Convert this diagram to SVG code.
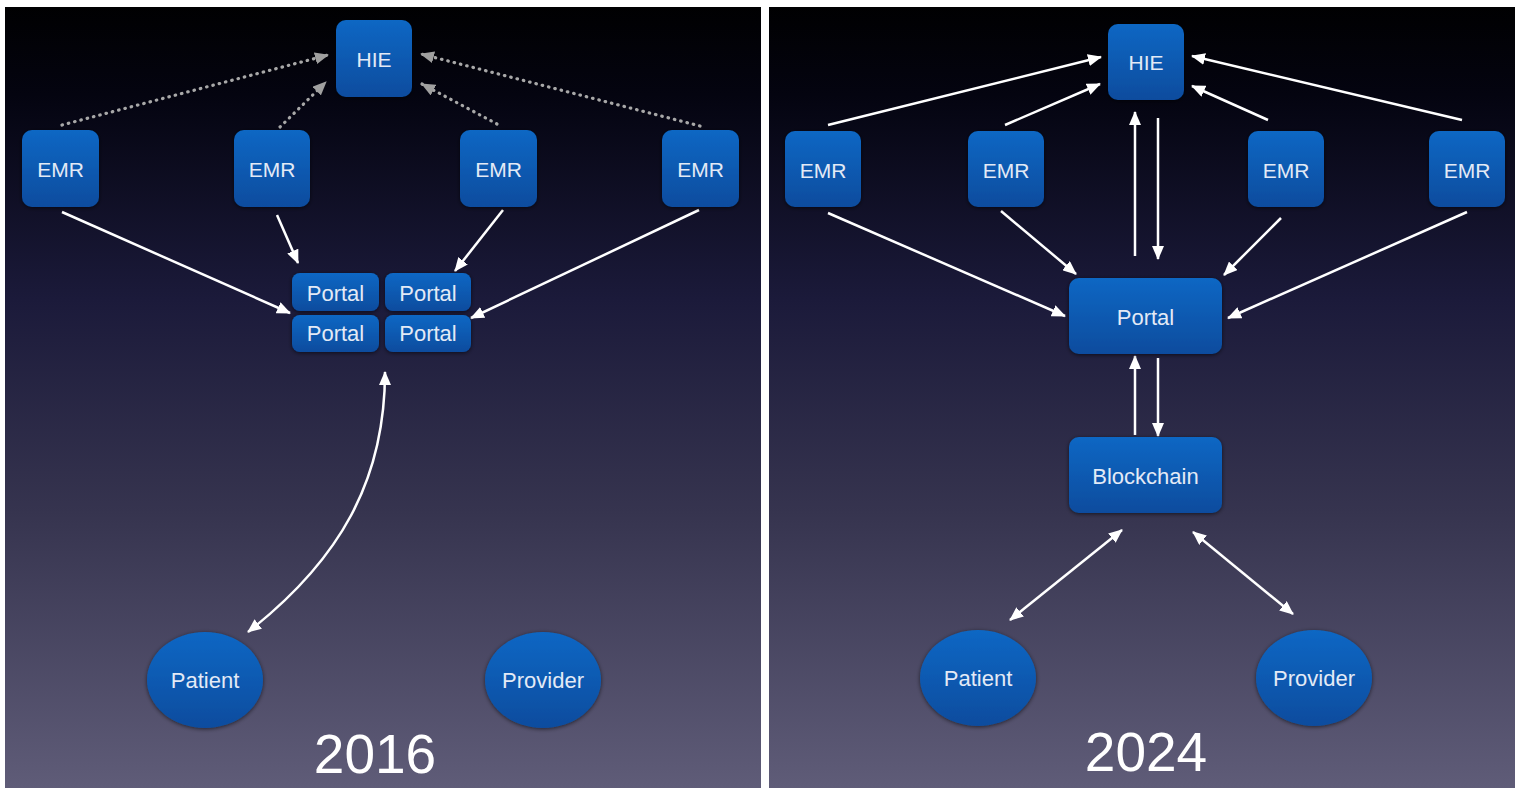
<svg xmlns="http://www.w3.org/2000/svg" width="1517" height="788" viewBox="0 0 1517 788">
<style>
.node{fill:url(#ng);filter:url(#sh)}
.t{font-family:"Liberation Sans",Arial,sans-serif;fill:#e3eaf6;text-anchor:middle;dominant-baseline:central}
.s{font-size:21px}
.m{font-size:22px}
.yr{font-family:"Liberation Sans",Arial,sans-serif;fill:#ffffff;font-size:55px;text-anchor:middle}
.a{stroke:#ffffff;stroke-width:2.5;fill:none;marker-end:url(#ah)}
.a2{stroke:#ffffff;stroke-width:2.5;fill:none;marker-end:url(#ah);marker-start:url(#ah)}
.d{stroke:#a8a8a8;stroke-width:3.2;fill:none;stroke-dasharray:0.5 6;stroke-linecap:round;marker-end:url(#gh)}
</style>
<defs>
<linearGradient id="bg" x1="0" y1="0" x2="0" y2="788" gradientUnits="userSpaceOnUse">
<stop offset="0" stop-color="#000000"/>
<stop offset="0.12" stop-color="#040410"/>
<stop offset="0.38" stop-color="#1b1a3a"/>
<stop offset="0.65" stop-color="#36344f"/>
<stop offset="1" stop-color="#5f5c78"/>
</linearGradient>
<linearGradient id="ng" x1="0" y1="0" x2="0" y2="1">
<stop offset="0" stop-color="#0c67c4"/>
<stop offset="1" stop-color="#0a4c9e"/>
</linearGradient>
<filter id="sh" x="-20%" y="-20%" width="140%" height="140%">
<feDropShadow dx="0" dy="1" stdDeviation="2" flood-color="#000000" flood-opacity="0.6"/>
</filter>
<marker id="ah" markerUnits="userSpaceOnUse" markerWidth="14" markerHeight="12" refX="13" refY="6" orient="auto-start-reverse" viewBox="0 0 14 12">
<path d="M0,0 L14,6 L0,12 z" fill="#ffffff"/>
</marker>
<marker id="gh" markerUnits="userSpaceOnUse" markerWidth="14" markerHeight="12" refX="13" refY="6" orient="auto" viewBox="0 0 14 12">
<path d="M0,0 L14,6 L0,12 z" fill="#a0a0a0"/>
</marker>
</defs>
<rect x="0" y="0" width="1517" height="788" fill="#ffffff"/>
<rect x="5" y="7" width="756" height="781" fill="url(#bg)"/>
<rect x="769" y="7" width="746" height="781" fill="url(#bg)"/>

<g id="connectors">
<!-- 2016 -->
<line class="d" x1="62" y1="125" x2="328" y2="55"/>
<line class="d" x1="280" y1="127" x2="326" y2="82"/>
<line class="d" x1="497" y1="124" x2="422" y2="84"/>
<line class="d" x1="700" y1="126" x2="421" y2="54"/>
<line class="a" x1="62" y1="212" x2="290" y2="313"/>
<line class="a" x1="277" y1="215" x2="298" y2="263"/>
<line class="a" x1="503" y1="210" x2="455" y2="271"/>
<line class="a" x1="699" y1="210" x2="471" y2="318"/>
<path class="a2" d="M248,632 C340,560 385,480 385,372"/>
<!-- 2024 -->
<line class="a" x1="828" y1="125" x2="1101" y2="57"/>
<line class="a" x1="1005" y1="125" x2="1100" y2="84"/>
<line class="a" x1="1268" y1="120" x2="1192" y2="86"/>
<line class="a" x1="1462" y1="120" x2="1192" y2="56"/>
<line class="a" x1="1135" y1="256" x2="1135" y2="112"/>
<line class="a" x1="1158" y1="118" x2="1158" y2="259"/>
<line class="a" x1="828" y1="213" x2="1065" y2="316"/>
<line class="a" x1="1001" y1="211" x2="1076" y2="274"/>
<line class="a" x1="1281" y1="218" x2="1224" y2="275"/>
<line class="a" x1="1467" y1="212" x2="1228" y2="318"/>
<line class="a" x1="1135" y1="435" x2="1135" y2="356"/>
<line class="a" x1="1158" y1="358" x2="1158" y2="436"/>
<line class="a2" x1="1122" y1="530" x2="1010" y2="620"/>
<line class="a2" x1="1193" y1="532" x2="1293" y2="614"/>
</g>

<!-- 2016 nodes -->
<g id="hie-2016"><rect class="node" x="336" y="20" width="76" height="77" rx="10"/><text class="t s" x="374" y="59">HIE</text></g>
<g id="emr1-2016"><rect class="node" x="22" y="130" width="77" height="77" rx="10"/><text class="t s" x="60.500" y="169">EMR</text></g>
<g id="emr2-2016"><rect class="node" x="234" y="130" width="76" height="77" rx="10"/><text class="t s" x="272" y="169">EMR</text></g>
<g id="emr3-2016"><rect class="node" x="460" y="130" width="77" height="77" rx="10"/><text class="t s" x="498.500" y="169">EMR</text></g>
<g id="emr4-2016"><rect class="node" x="662" y="130" width="77" height="77" rx="10"/><text class="t s" x="700.500" y="169">EMR</text></g>
<g id="portal1-2016"><rect class="node" x="292" y="273" width="87" height="38" rx="8"/><text class="t m" x="335.500" y="293">Portal</text></g>
<g id="portal2-2016"><rect class="node" x="385" y="273" width="86" height="38" rx="8"/><text class="t m" x="428" y="293">Portal</text></g>
<g id="portal3-2016"><rect class="node" x="292" y="315" width="87" height="37" rx="8"/><text class="t m" x="335.500" y="333">Portal</text></g>
<g id="portal4-2016"><rect class="node" x="385" y="315" width="86" height="37" rx="8"/><text class="t m" x="428" y="333">Portal</text></g>
<g id="patient-2016"><ellipse class="node" cx="205" cy="680" rx="58" ry="48"/><text class="t m" x="205" y="680">Patient</text></g>
<g id="provider-2016"><ellipse class="node" cx="543" cy="680" rx="58" ry="48"/><text class="t m" x="543" y="680">Provider</text></g>
<text class="yr" x="375" y="773">2016</text>

<!-- 2024 nodes -->
<g id="hie-2024"><rect class="node" x="1108" y="24" width="76" height="76" rx="10"/><text class="t s" x="1146" y="62">HIE</text></g>
<g id="emr1-2024"><rect class="node" x="785" y="131" width="76" height="76" rx="10"/><text class="t s" x="823" y="170">EMR</text></g>
<g id="emr2-2024"><rect class="node" x="968" y="131" width="76" height="76" rx="10"/><text class="t s" x="1006" y="170">EMR</text></g>
<g id="emr3-2024"><rect class="node" x="1248" y="131" width="76" height="76" rx="10"/><text class="t s" x="1286" y="170">EMR</text></g>
<g id="emr4-2024"><rect class="node" x="1429" y="131" width="76" height="76" rx="10"/><text class="t s" x="1467" y="170">EMR</text></g>
<g id="portal-2024"><rect class="node" x="1069" y="278" width="153" height="76" rx="10"/><text class="t m" x="1145.500" y="317">Portal</text></g>
<g id="blockchain-2024"><rect class="node" x="1069" y="437" width="153" height="76" rx="10"/><text class="t m" x="1145.500" y="476">Blockchain</text></g>
<g id="patient-2024"><ellipse class="node" cx="978" cy="678" rx="58" ry="48"/><text class="t m" x="978" y="678">Patient</text></g>
<g id="provider-2024"><ellipse class="node" cx="1314" cy="678" rx="58" ry="48"/><text class="t m" x="1314" y="678">Provider</text></g>
<text class="yr" x="1146" y="771">2024</text>
</svg>
